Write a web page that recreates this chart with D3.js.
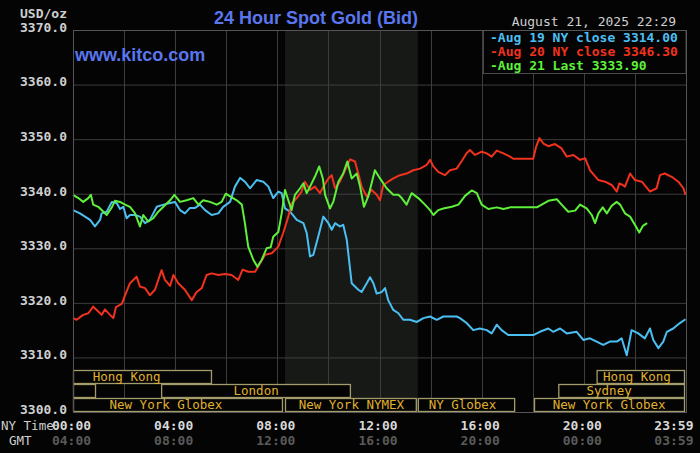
<!DOCTYPE html>
<html>
<head>
<meta charset="utf-8">
<script src="https://cdn.jsdelivr.net/npm/d3@7"></script>
<style>
	html, body { margin: 0; padding: 0; background: #000; }
	svg { display: block; }
	.mono { font-family: "DejaVu Sans Mono", monospace; font-weight: bold; }
</style>
</head>
<body>
<div id="chart"></div>
<script>
// hour of NY day, price (USD/oz)
const aug19 = [
	[0,3337.0],[0.27,3336.4],[0.67,3335.2],[0.86,3334.0],[1.06,3335.2],[1.12,3336.4],[1.32,3336.7],
	[1.52,3338.5],[1.71,3338.3],[1.84,3337.2],[1.97,3337.6],[2.10,3335.5],[2.23,3336.1],[2.43,3336.1],
	[2.62,3335.8],[2.82,3334.6],[3.01,3335.2],[3.28,3337.6],[3.54,3338.0],[3.80,3338.3],[3.99,3338.5],
	[4.19,3337.0],[4.38,3336.4],[4.58,3337.4],[4.78,3337.4],[4.97,3338.0],[5.17,3337.0],[5.43,3336.1],
	[5.69,3336.4],[5.88,3337.6],[6.15,3338.5],[6.34,3341.3],[6.54,3342.9],[6.73,3342.2],[6.93,3341.0],
	[7.19,3342.5],[7.45,3342.2],[7.65,3341.3],[7.84,3339.2],[8.04,3340.4],[8.17,3340.1],[8.30,3337.3],
	[8.50,3336.7],[8.76,3335.2],[9.02,3334.6],[9.15,3332.8],[9.28,3328.5],[9.41,3328.8],[9.60,3332.1],
	[9.80,3335.8],[10.00,3334.6],[10.13,3333.4],[10.26,3334.6],[10.45,3334.0],[10.58,3334.3],[10.72,3331.5],
	[10.91,3323.6],[11.04,3323.0],[11.17,3322.4],[11.30,3322.0],[11.50,3323.6],[11.63,3324.7],[11.76,3323.6],
	[11.89,3321.7],[12.09,3322.0],[12.22,3322.7],[12.34,3320.5],[12.54,3318.7],[12.74,3318.1],[12.93,3316.9],
	[13.19,3316.9],[13.46,3316.5],[13.72,3317.2],[13.98,3317.5],[14.24,3316.9],[14.50,3317.5],[14.76,3317.5],
	[15.02,3317.5],[15.15,3317.2],[15.41,3316.3],[15.67,3315.0],[15.93,3315.3],[16.20,3315.0],[16.39,3314.4],
	[16.59,3316.0],[16.78,3315.0],[17.04,3314.1],[18.02,3314.1],[18.28,3314.7],[18.61,3315.3],[18.80,3314.7],
	[19.07,3315.3],[19.33,3314.4],[19.72,3314.7],[19.98,3313.2],[20.24,3313.5],[20.50,3312.9],[20.76,3312.3],
	[21.02,3312.9],[21.29,3312.9],[21.48,3313.5],[21.68,3310.4],[21.87,3315.0],[22.13,3314.4],[22.39,3313.5],
	[22.59,3315.3],[22.72,3313.2],[22.92,3311.7],[23.11,3312.9],[23.25,3314.7],[23.50,3315.3],[23.76,3316.3],
	[23.98,3317.0]
];

const aug20 = [
	[0,3317.2],[0.14,3316.9],[0.40,3317.8],[0.60,3318.1],[0.79,3319.3],[0.99,3318.4],[1.12,3317.8],
	[1.25,3318.8],[1.45,3317.8],[1.58,3317.2],[1.68,3319.2],[1.91,3319.8],[2.04,3321.4],[2.23,3323.6],
	[2.49,3324.8],[2.62,3323.0],[2.82,3322.7],[3.01,3321.4],[3.21,3322.4],[3.34,3324.2],[3.47,3326.0],
	[3.60,3324.2],[3.80,3323.1],[3.93,3325.1],[4.12,3323.6],[4.38,3322.4],[4.65,3320.5],[4.84,3322.0],
	[5.04,3322.7],[5.23,3325.1],[5.43,3325.4],[5.69,3325.1],[5.95,3325.3],[6.21,3325.1],[6.47,3324.2],
	[6.64,3326.1],[6.86,3325.7],[7.13,3325.7],[7.32,3327.2],[7.52,3328.8],[7.78,3329.1],[8.04,3330.3],
	[8.23,3332.8],[8.43,3335.8],[8.56,3338.2],[8.76,3339.2],[8.95,3340.4],[9.08,3342.2],[9.28,3340.7],
	[9.47,3341.3],[9.67,3340.1],[9.80,3341.3],[10.00,3342.8],[10.13,3343.4],[10.26,3341.0],[10.45,3342.2],
	[10.65,3344.3],[10.85,3346.3],[11.04,3345.9],[11.17,3343.7],[11.30,3341.3],[11.50,3339.5],[11.69,3340.7],
	[11.89,3339.8],[12.02,3338.8],[12.15,3341.6],[12.34,3342.2],[12.54,3342.8],[12.80,3343.4],[13.06,3343.7],
	[13.32,3344.3],[13.59,3344.6],[13.85,3345.3],[13.98,3346.2],[14.11,3345.0],[14.30,3344.0],[14.56,3343.4],
	[14.76,3344.3],[15.02,3344.6],[15.22,3346.0],[15.41,3347.4],[15.54,3348.0],[15.74,3347.1],[16.00,3347.7],
	[16.20,3347.4],[16.39,3346.8],[16.59,3347.9],[16.85,3347.4],[17.11,3346.8],[17.24,3346.4],[18.02,3346.4],
	[18.13,3348.6],[18.26,3350.2],[18.42,3349.2],[18.61,3348.7],[18.87,3349.1],[19.13,3348.3],[19.33,3346.8],
	[19.59,3347.1],[19.85,3346.2],[20.05,3346.5],[20.24,3344.3],[20.37,3343.6],[20.57,3342.5],[20.83,3342.2],
	[21.09,3341.6],[21.29,3340.4],[21.39,3341.9],[21.52,3341.6],[21.61,3341.3],[21.81,3343.7],[22.00,3342.5],
	[22.27,3342.2],[22.59,3340.4],[22.85,3341.0],[22.98,3343.4],[23.17,3343.7],[23.44,3343.1],[23.70,3342.2],
	[23.90,3341.0],[23.98,3339.8]
];

const aug21 = [
	[0,3339.8],[0.21,3339.2],[0.40,3338.5],[0.60,3339.2],[0.70,3339.8],[0.79,3338.0],[0.99,3337.6],
	[1.12,3337.0],[1.32,3336.1],[1.52,3337.5],[1.64,3338.7],[1.84,3338.5],[2.04,3338.0],[2.23,3337.6],
	[2.43,3336.4],[2.62,3334.0],[2.75,3336.1],[2.95,3334.9],[3.14,3335.5],[3.34,3336.7],[3.54,3337.6],
	[3.80,3338.8],[3.97,3339.8],[4.19,3338.5],[4.45,3338.8],[4.71,3339.2],[4.91,3338.0],[5.10,3338.8],
	[5.36,3338.5],[5.63,3338.0],[5.82,3338.5],[5.98,3340.0],[6.15,3339.5],[6.41,3338.8],[6.61,3338.0],
	[6.73,3334.6],[6.86,3330.3],[7.06,3327.9],[7.22,3326.6],[7.39,3327.9],[7.58,3330.0],[7.74,3330.2],
	[7.84,3332.1],[8.04,3333.0],[8.17,3336.4],[8.30,3340.7],[8.43,3338.8],[8.56,3337.0],[8.69,3339.8],
	[8.89,3341.0],[9.02,3341.9],[9.15,3340.1],[9.28,3341.3],[9.47,3343.1],[9.64,3345.0],[9.78,3342.8],
	[9.87,3339.8],[10.06,3337.3],[10.19,3338.5],[10.39,3342.2],[10.58,3343.7],[10.74,3345.9],[10.91,3342.8],
	[11.11,3343.7],[11.24,3341.3],[11.39,3337.6],[11.56,3339.5],[11.82,3344.3],[12.02,3342.8],[12.28,3341.0],
	[12.54,3339.8],[12.74,3339.8],[12.87,3339.2],[13.06,3338.0],[13.26,3340.1],[13.52,3339.2],[13.78,3338.0],
	[13.98,3337.0],[14.11,3336.1],[14.30,3337.0],[14.50,3337.3],[14.83,3337.6],[15.09,3338.0],[15.35,3339.6],
	[15.61,3340.6],[15.81,3340.1],[16.00,3338.0],[16.26,3337.2],[16.59,3337.5],[16.85,3337.2],[17.11,3337.5],
	[18.16,3337.5],[18.35,3338.0],[18.61,3338.7],[18.94,3339.0],[19.13,3338.0],[19.39,3336.7],[19.66,3336.9],
	[19.85,3338.0],[20.11,3337.3],[20.31,3336.1],[20.44,3334.6],[20.57,3336.4],[20.74,3337.5],[20.90,3336.4],
	[21.09,3337.8],[21.29,3338.5],[21.42,3338.0],[21.61,3336.4],[21.81,3335.8],[22.00,3334.3],[22.17,3332.9],
	[22.31,3334.1],[22.48,3334.6]
];

const seriesNames  = ['Aug 19 NY close 3314.00', 'Aug 20 NY close 3346.30', 'Aug 21 Last 3333.90'];
const seriesColors = ['#4cbff2', '#f0321e', '#5ef03a'];

const yTicks   = [3300, 3310, 3320, 3330, 3340, 3350, 3360, 3370];
const xTicks   = [0, 4, 8, 12, 16, 20, 23.98];
const nyLabels = ['00:00', '04:00', '08:00', '12:00', '16:00', '20:00', '23:59'];
const gmtLabels= ['04:00', '08:00', '12:00', '16:00', '20:00', '00:00', '03:59'];

// trading sessions: row, start hour, end hour, label hour
const sessionNames = ['Hong Kong', '', 'London', 'New York Globex', 'New York NYMEX', 'NY Globex', 'New York Globex', 'Sydney', 'Hong Kong'];
const sessionRows  = [0, 1, 1, 2, 2, 2, 2, 1, 0];
const sessionStart = [0, 0, 3.45, 0, 8.3, 13.5, 18.05, 19.0, 20.5];
const sessionEnd   = [5.48, 0.94, 10.92, 8.26, 13.5, 17.35, 24, 24, 24];
const sessionLabel = [2.1, 0, 7.17, 3.64, 10.9, 15.25, 20.99, 20.99, 22.08];

const nymexShade = [8.3, 13.5];
const stamp = 'August 21, 2025 22:29';

const margin = {top: 30, right: 14, bottom: 41, left: 73},
	fullW = 700, fullH = 453,
	width = fullW - margin.left - margin.right,
	height = fullH - margin.top - margin.bottom;

const svg = d3.select('#chart').append('svg')
	.attr('width', fullW)
	.attr('height', fullH)
	.style('background', '#040404');

const x = d3.scaleLinear().domain([0, 24]).range([0, width]);
const y = d3.scaleLinear().domain([3300, 3370]).range([height, 0]);

const g = svg.append('g')
	.attr('transform', 'translate(' + margin.left + ',' + margin.top + ')');

// NYMEX shade
g.append('rect')
	.attr('x', x(nymexShade[0]))
	.attr('y', 0)
	.attr('width', x(nymexShade[1]) - x(nymexShade[0]))
	.attr('height', height)
	.attr('fill', '#171917');

// grid
g.selectAll('.hgrid').data(yTicks).enter().append('line')
	.attr('x1', 0).attr('x2', width)
	.attr('y1', d => y(d) + 0.5).attr('y2', d => y(d) + 0.5)
	.attr('stroke', '#3d3d3d').attr('stroke-width', 1);

g.selectAll('.vgrid').data(d3.range(0, 25, 2)).enter().append('line')
	.attr('y1', 0).attr('y2', height)
	.attr('x1', d => Math.round(x(d)) + 0.5).attr('x2', d => Math.round(x(d)) + 0.5)
	.attr('stroke', '#3d3d3d').attr('stroke-width', 1);

// legend box (sits in the plot, over the grid)
const legend = g.append('g').attr('transform', 'translate(' + (410) + ',0)');
legend.append('rect')
	.attr('x', 0.5).attr('y', 0.5)
	.attr('width', width - 410 - 0.5).attr('height', 43)
	.attr('fill', '#040404').attr('stroke', '#4a4a4a');

seriesNames.forEach(function(name, i) {
	legend.append('text')
		.attr('class', 'mono')
		.attr('x', 7)
		.attr('y', 12 + i * 14.2)
		.attr('font-size', 13)
		.attr('fill', seriesColors[i])
		.text('-' + name);
});

// sessions
const rowH = 14;
const rowTop = height - 3 * rowH;
const sess = g.append('g');
sessionNames.forEach(function(name, i) {
	const x0 = x(sessionStart[i]), x1 = x(sessionEnd[i]);
	const yy = rowTop + sessionRows[i] * rowH;
	sess.append('rect')
		.attr('x', x0 + 0.5).attr('y', yy + 0.5)
		.attr('width', Math.max(0, x1 - x0 - 2)).attr('height', rowH - 1)
		.attr('fill', '#040404')
		.attr('stroke', '#a39c6a').attr('stroke-width', 1.3);
	if (name) {
		sess.append('text')
			.attr('class', 'mono')
			.attr('x', x(sessionLabel[i]))
			.attr('y', yy + 11)
			.attr('text-anchor', 'middle')
			.attr('font-size', 12.5)
			.attr('fill', '#e0b22c')
			.style('font-weight', 'normal')
			.text(name);
	}
});

// price lines
const line = d3.line()
	.x(d => x(d[0]))
	.y(d => y(d[1]));

[aug19, aug20, aug21].forEach(function(data, i) {
	g.append('path')
		.datum(data)
		.attr('fill', 'none')
		.attr('stroke', seriesColors[i])
		.attr('stroke-width', 2)
		.attr('stroke-linejoin', 'round')
		.attr('d', line);
});

// frame
g.append('rect')
	.attr('x', 0.5).attr('y', 0.5)
	.attr('width', width).attr('height', height)
	.attr('fill', 'none').attr('stroke', '#555');

// y axis labels
const yAxis = d3.axisLeft(y).tickValues(yTicks).tickSize(0).tickPadding(6).tickFormat(d3.format('.1f'));
g.append('g').call(yAxis)
	.call(s => s.select('.domain').remove())
	.selectAll('text')
	.attr('class', 'mono')
	.attr('font-size', 13)
	.attr('fill', '#cfcfcf')
	.attr('dy', '0.1em');

svg.append('text').attr('class', 'mono')
	.attr('x', 67).attr('y', 18).attr('text-anchor', 'end')
	.attr('font-size', 13).attr('fill', '#cfcfcf').text('USD/oz');

// x axis labels
const xb = svg.append('g').attr('transform', 'translate(' + margin.left + ',' + (margin.top + height) + ')');
xTicks.forEach(function(t, i) {
	const last = i === xTicks.length - 1;
	xb.append('text').attr('class', 'mono')
		.attr('x', last ? x(t) + 8 : x(t) - 1.5).attr('y', 18)
		.attr('text-anchor', last ? 'end' : 'middle')
		.attr('font-size', 13).attr('fill', '#d8d8d8').text(nyLabels[i]);
	xb.append('text').attr('class', 'mono')
		.attr('x', last ? x(t) + 8 : x(t) - 1.5).attr('y', 33)
		.attr('text-anchor', last ? 'end' : 'middle')
		.attr('font-size', 13).attr('fill', '#5a5a5a').text(gmtLabels[i]);
});

svg.append('text').attr('class', 'mono')
	.attr('x', 1).attr('y', margin.top + height + 18)
	.attr('font-size', 12.5).attr('fill', '#cfcfcf').style('font-weight', 'normal').text('NY Time');
svg.append('text').attr('class', 'mono')
	.attr('x', 9).attr('y', margin.top + height + 33)
	.attr('font-size', 12.5).attr('fill', '#cfcfcf').style('font-weight', 'normal').text('GMT');

// titles
svg.append('text')
	.attr('x', 316).attr('y', 24)
	.attr('text-anchor', 'middle')
	.attr('font-family', '"Liberation Sans", Arial, sans-serif')
	.attr('font-weight', 'bold')
	.attr('font-size', 18)
	.attr('fill', '#5a76ee')
	.text('24 Hour Spot Gold (Bid)');

svg.append('text')
	.attr('x', 75).attr('y', 61)
	.attr('font-family', '"Liberation Sans", Arial, sans-serif')
	.attr('font-weight', 'bold')
	.attr('font-size', 18)
	.attr('fill', '#5a76ee')
	.text('www.kitco.com');

svg.append('text').attr('class', 'mono')
	.attr('x', 676).attr('y', 26)
	.attr('text-anchor', 'end')
	.attr('font-size', 13)
	.attr('fill', '#cfcfcf')
	.style('font-weight', 'normal')
	.text(stamp);
</script>
</body>
</html>
